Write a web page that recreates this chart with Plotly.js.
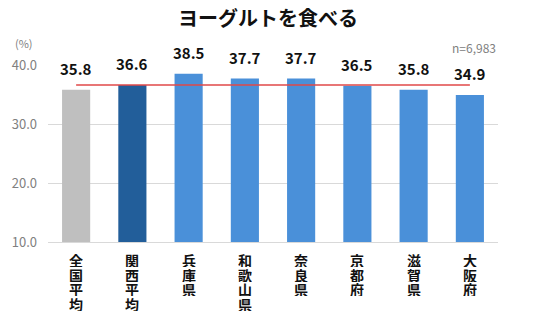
<!DOCTYPE html>
<html><head><meta charset="utf-8">
<script src="https://cdn.plot.ly/plotly-3.0.1.min.js"></script>
<style>html,body{margin:0;padding:0;background:#fff}#c{width:536px;height:322px}</style>
</head><body><div id="c"></div>
<script>
const categories = ["全国平均","関西平均","兵庫県","和歌山県","奈良県","京都府","滋賀県","大阪府"];
const values = [35.8,36.6,38.5,37.7,37.7,36.5,35.8,34.9];
const barColors = ["#BFBFBF","#225E9A","#4A90D9","#4A90D9","#4A90D9","#4A90D9","#4A90D9","#4A90D9"];
const kansaiAvg = 36.6;
const tickVals = [10,20,30,40];
const tickText = ["10.0","20.0","30.0","40.0"];
const sampleNote = "n=6,983";
const titleText = "ヨーグルトを食べる";

const font = "Noto Sans CJK JP, Noto Sans, sans-serif";

const bars = {
  type:"bar", x:categories, y:values, width:0.5,
  marker:{color:barColors}, hoverinfo:"skip"
};
const line = {
  type:"scatter", mode:"lines", x:categories, y:categories.map(()=>kansaiAvg),
  line:{color:"#E04848", width:1.5}, hoverinfo:"skip"
};
const valueLabels = categories.map((c,i)=>({
  x:c, y:values[i], xref:"x", yref:"y", text:"<b>"+values[i].toFixed(1)+"</b>",
  showarrow:false, yanchor:"bottom", yshift:9,
  font:{family:font,size:15,color:"#111"}
}));
// vertical category labels, one character per annotation
const catLabels = [];
categories.forEach(c=>{
  c.split("").forEach((ch,k)=>{
    catLabels.push({x:c, xref:"x", y:0, yref:"paper", text:"<b>"+ch+"</b>",
      showarrow:false, yanchor:"middle", yshift:-(18+k*14.5), height:14, borderpad:0, valign:"middle",
      font:{family:font,size:14,color:"#111"}});
  });
});
Plotly.newPlot("c",[bars,line],{
  width:536, height:322,
  margin:{l:48,r:38,t:65,b:80},
  showlegend:false, plot_bgcolor:"#fff", paper_bgcolor:"#fff",
  title:{text:"<b>"+titleText+"</b>", font:{family:font,size:20,color:"#111"}, x:0.5, xanchor:"center", y:0.94, yanchor:"middle"},
  xaxis:{showticklabels:false, showline:true, linecolor:"#D9D9D9", ticks:""},
  yaxis:{range:[10,40], tickvals:tickVals, ticktext:tickText, tickfont:{family:font,size:13,color:"#808080"},
    showgrid:true, gridcolor:"#D9D9D9", zeroline:false, ticks:"", ticklen:0, ticklabelstandoff:10},
  bargap:0.5,
  annotations:valueLabels.concat(catLabels).concat([
    {text:"(%)", xref:"paper", yref:"paper", x:-0.03, y:1.07, xanchor:"right", yanchor:"bottom", showarrow:false, font:{family:font,size:11,color:"#808080"}},
    {text:sampleNote, xref:"paper", yref:"paper", x:1.0, y:1.04, xanchor:"right", yanchor:"bottom", showarrow:false, font:{family:font,size:12,color:"#808080"}}
  ])
},{displayModeBar:false, staticPlot:true});
</script></body></html>
